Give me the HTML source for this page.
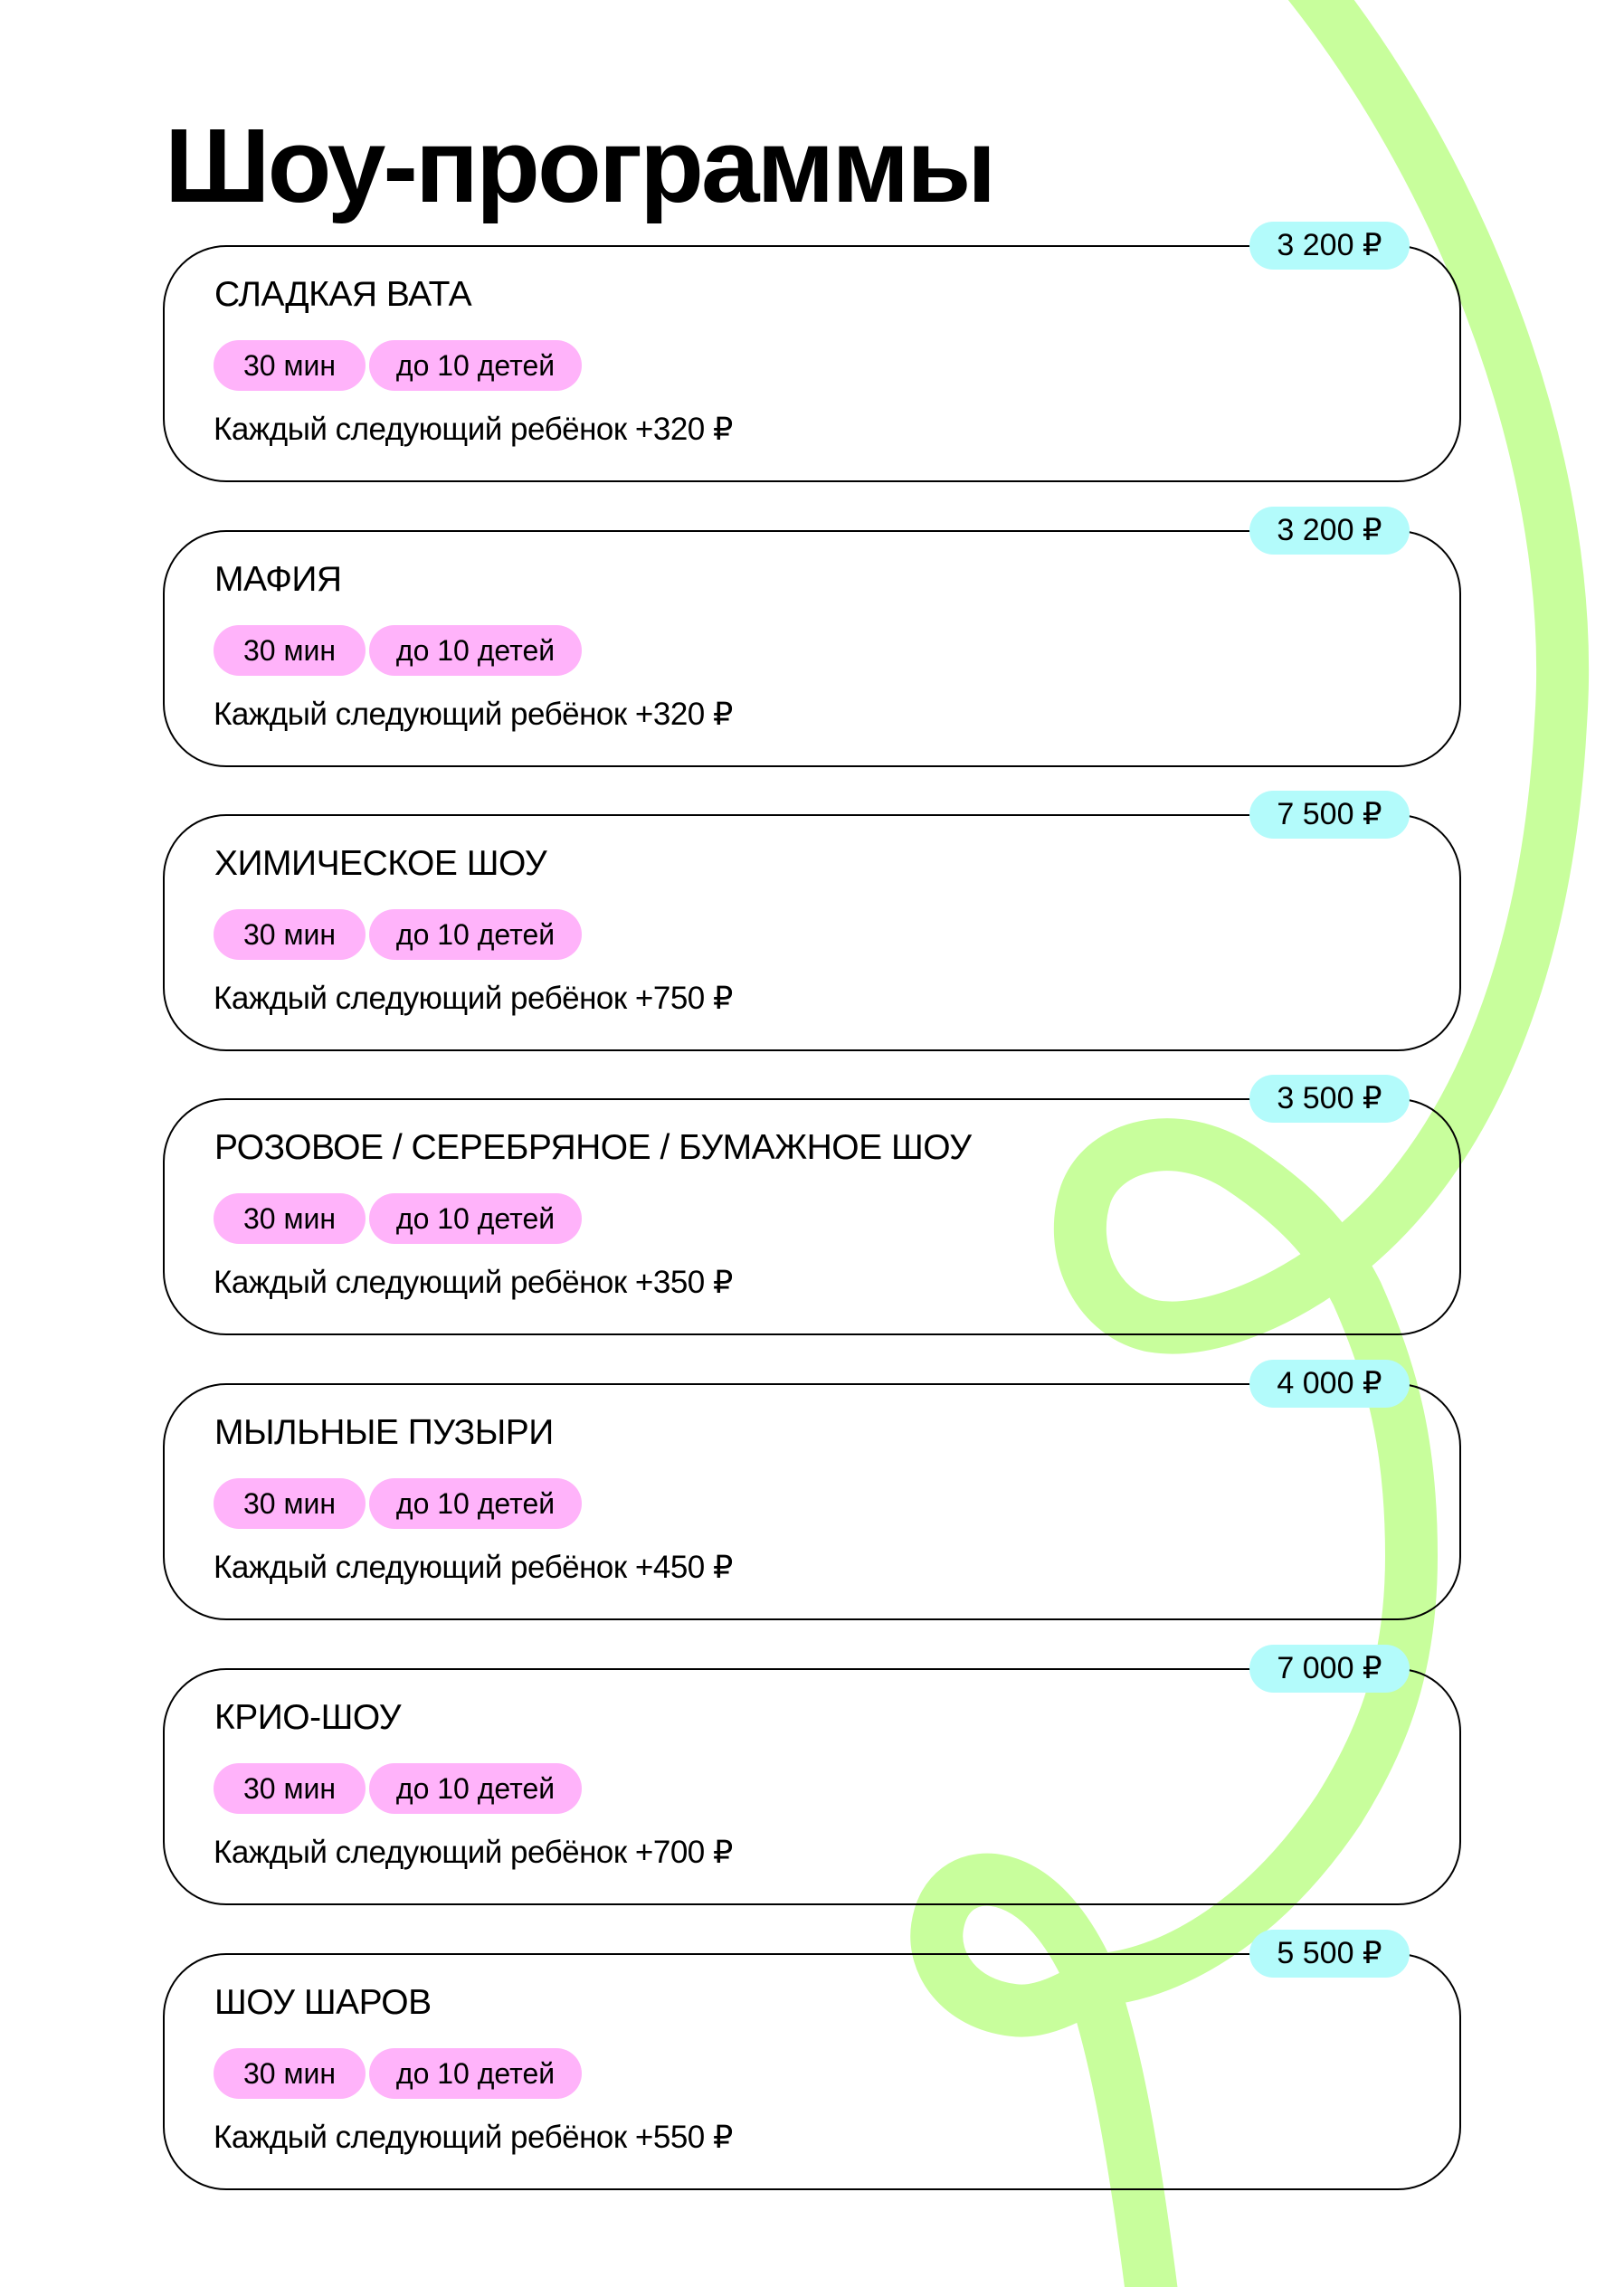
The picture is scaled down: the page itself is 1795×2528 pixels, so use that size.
<!DOCTYPE html>
<html><head><meta charset="utf-8"><style>
body{margin:0;width:1795px;height:2528px;position:relative;background:#fff;overflow:hidden;font-family:"Liberation Sans","DejaVu Sans",sans-serif;color:#000}
svg.bg{position:absolute;left:0;top:0}
h1{position:absolute;left:182px;top:118px;margin:0;font-size:116px;font-weight:bold;letter-spacing:-3px;line-height:130px}
.card{position:absolute;left:180px;width:1431px;height:258px;border:2px solid #000;border-radius:70px}
.pill{position:absolute;left:1199px;top:-28px;width:177px;height:53px;background:#b3fbfb;border-radius:27px;font-size:34px;line-height:53px;text-align:center}
.t{position:absolute;left:55px;top:30px;font-size:39px;line-height:46px;letter-spacing:-0.5px}
.tag{position:absolute;top:103px;height:56px;background:#ffb3fa;border-radius:28px;font-size:32px;line-height:56px;text-align:center}
.d{position:absolute;left:54px;top:180px;font-size:35px;line-height:44px;letter-spacing:-0.5px}
</style></head><body>
<svg class="bg" width="1795" height="2528"><path d="M1445,-20 C1620,200 1745,520 1725,800 C1710,1080 1620,1280 1487,1386 C1420,1440 1330,1478 1270,1465 C1210,1450 1180,1380 1200,1320 C1220,1265 1300,1245 1370,1290 C1430,1330 1470,1370 1500,1430 C1540,1520 1560,1600 1560,1720 C1560,1840 1530,1920 1480,2000 C1400,2120 1300,2180 1219,2188 C1180,2210 1150,2226 1120,2222 C1060,2215 1030,2170 1036,2130 C1042,2090 1070,2075 1098,2078 C1150,2085 1185,2140 1205,2185 C1230,2260 1250,2350 1275,2550" fill="none" stroke="#c8fe9c" stroke-width="58"/></svg>
<h1>Шоу-программы</h1>

<div class="card" style="top:271px"><div class="pill">3 200 ₽</div><div class="t">СЛАДКАЯ ВАТА</div><div class="tag" style="left:54px;width:168px">30 мин</div><div class="tag" style="left:226px;width:235px">до 10 детей</div><div class="d">Каждый следующий ребёнок +320 ₽</div></div>
<div class="card" style="top:586px"><div class="pill">3 200 ₽</div><div class="t">МАФИЯ</div><div class="tag" style="left:54px;width:168px">30 мин</div><div class="tag" style="left:226px;width:235px">до 10 детей</div><div class="d">Каждый следующий ребёнок +320 ₽</div></div>
<div class="card" style="top:900px"><div class="pill">7 500 ₽</div><div class="t">ХИМИЧЕСКОЕ ШОУ</div><div class="tag" style="left:54px;width:168px">30 мин</div><div class="tag" style="left:226px;width:235px">до 10 детей</div><div class="d">Каждый следующий ребёнок +750 ₽</div></div>
<div class="card" style="top:1214px"><div class="pill">3 500 ₽</div><div class="t">РОЗОВОЕ / СЕРЕБРЯНОЕ / БУМАЖНОЕ ШОУ</div><div class="tag" style="left:54px;width:168px">30 мин</div><div class="tag" style="left:226px;width:235px">до 10 детей</div><div class="d">Каждый следующий ребёнок +350 ₽</div></div>
<div class="card" style="top:1529px"><div class="pill">4 000 ₽</div><div class="t">МЫЛЬНЫЕ ПУЗЫРИ</div><div class="tag" style="left:54px;width:168px">30 мин</div><div class="tag" style="left:226px;width:235px">до 10 детей</div><div class="d">Каждый следующий ребёнок +450 ₽</div></div>
<div class="card" style="top:1844px"><div class="pill">7 000 ₽</div><div class="t">КРИО-ШОУ</div><div class="tag" style="left:54px;width:168px">30 мин</div><div class="tag" style="left:226px;width:235px">до 10 детей</div><div class="d">Каждый следующий ребёнок +700 ₽</div></div>
<div class="card" style="top:2159px"><div class="pill">5 500 ₽</div><div class="t">ШОУ ШАРОВ</div><div class="tag" style="left:54px;width:168px">30 мин</div><div class="tag" style="left:226px;width:235px">до 10 детей</div><div class="d">Каждый следующий ребёнок +550 ₽</div></div>
</body></html>
